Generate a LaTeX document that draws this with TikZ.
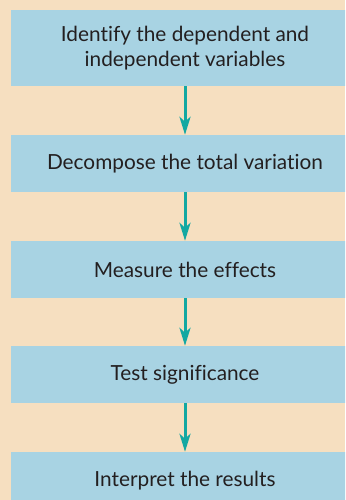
\documentclass[tikz,border=0pt]{standalone}
\usepackage{fontspec}
\setmainfont{Lato}[Ligatures={NoCommon}]
\usetikzlibrary{arrows.meta}
\definecolor{bgpeach}{HTML}{F6DFC0}
\definecolor{boxblue}{HTML}{A8D3E3}
\definecolor{arrowteal}{HTML}{13A8A2}
\definecolor{textdark}{HTML}{231F20}
\tikzset{
  stepbox/.style={fill=boxblue, draw=none, minimum width=348pt, inner sep=0pt,
    text=textdark, align=center, font=\fontsize{20.8}{25.5}\selectfont},
  flowarrow/.style={draw=arrowteal, line width=3pt,
    -{Stealth[length=18pt, width=11pt, inset=5pt]}}
}
\begin{document}
\begin{tikzpicture}[x=1pt, y=-1pt]
\useasboundingbox (0,0) rectangle (345,500);
\fill[bgpeach] (0,0) rectangle (345,500);
\clip (0,0) rectangle (345,500);
\node[stepbox, minimum height=76pt] (s1) at (185,48) {Identify the dependent and\\independent variables};
\node[stepbox, minimum height=57pt] (s2) at (185,163.5) {Decompose the total variation};
\node[stepbox, minimum height=57pt] (s3) at (185,269.5) {Measure the effects};
\node[stepbox, minimum height=57pt] (s4) at (185,374.5) {Test significance};
\node[stepbox, minimum height=57pt] (s5) at (185,480.5) {Interpret the results};
\draw[flowarrow] (s1.south) -- (s2.north);
\draw[flowarrow] (s2.south) -- (s3.north);
\draw[flowarrow] (s3.south) -- (s4.north);
\draw[flowarrow] (s4.south) -- (s5.north);
\end{tikzpicture}
\end{document}
